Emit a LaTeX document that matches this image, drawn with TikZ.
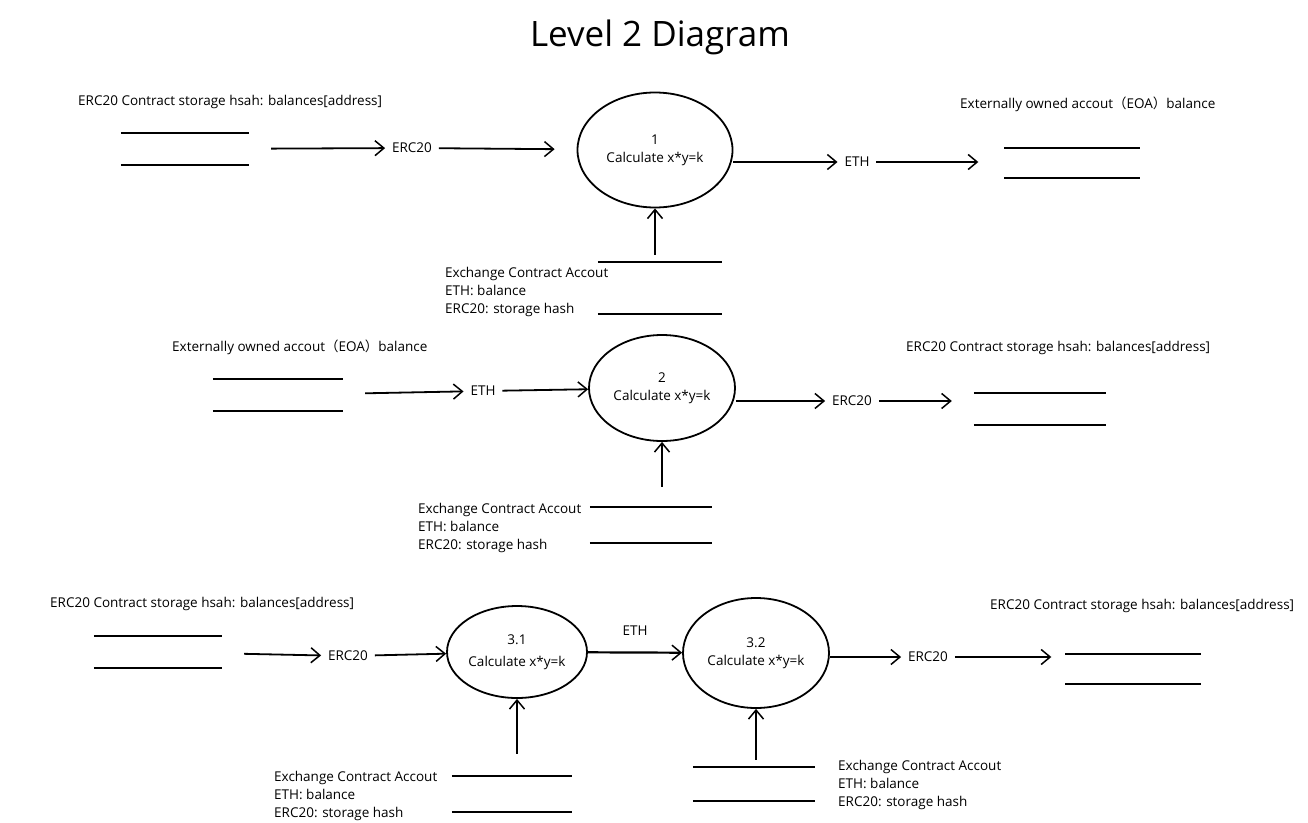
\documentclass[tikz,border=0pt]{standalone}
\usepackage{fontspec}
\setmainfont{Open Sans}
\newfontfamily\cjk{Noto Sans CJK SC}
\usetikzlibrary{arrows.meta,shapes.geometric}
\newcommand{\eoa}{Externally owned accout{\cjk（}EOA{\cjk）}balance}
\newcommand{\erc}{ERC20 Contract storage hsah: balances[address]}
\newcommand{\exch}{Exchange Contract Accout\\ETH: balance\\ERC20: storage hash}
\tikzset{
  txt/.style={font=\fontsize{13.5}{18}\selectfont},
  flow/.style={line width=1.8pt,-{Straight Barb[length=9pt,width=15pt,line width=1.5pt]}},
  fromstore/.style={shorten <=22pt},
  tostore/.style={shorten >=22pt},
  proc/.style={ellipse,draw,line width=1.8pt,align=center,txt,inner sep=0pt},
  lbl/.style={txt,inner sep=2pt,outer sep=5pt},
  note/.style={txt,anchor=west,inner sep=0pt,align=left},
  store/.style={minimum width=128pt,minimum height=32pt,inner sep=0pt},
  storeline/.style={line width=2pt},
}
\begin{document}
\begin{tikzpicture}[x=1pt,y=-1pt]
\useasboundingbox (0,0) rectangle (1308,822);
\node[font=\fontsize{35}{40}\selectfont] (title) at (660,37) {Level 2 Diagram};

% row 1
\node[note] (t1) at (78,102) {\erc};
\node[note] (t2) at (960,104) {\eoa};
\node[store] (s1) at (185,149) {};
\node[store,minimum width=135pt,minimum height=30pt] (o1) at (1072,163) {};
\node[store,minimum width=124pt,minimum height=52pt] (e1) at (660,288) {};
\node[note] (x1) at (445,292) {\exch};
\node[proc,minimum width=155pt,minimum height=115pt] (c1) at (655,150) {1\\Calculate x*y=k};
\node[lbl] (f11) at (412,148) {ERC20};
\node[lbl] (f12) at (857,162) {ETH};
\draw[flow,fromstore] (s1) -- (f11);
\draw[flow,shorten >=22pt] (f11) -- (c1);
\draw[flow] (f12 -| c1.east) -- (f12);
\draw[flow,shorten >=26pt] (f12) -- (f12 -| o1.west);
\draw[flow,shorten <=7pt] (c1.south |- e1.north) -- (c1.south);

% row 2
\node[note] (t21) at (172,347) {\eoa};
\node[note] (t22) at (906,348) {\erc};
\node[store,minimum width=130pt] (s21) at (278,395) {};
\node[store,minimum width=132pt] (s22) at (1040,409) {};
\node[store,minimum width=122pt,minimum height=36pt] (e2) at (651,525) {};
\node[note] (x2) at (418,528) {\exch};
\node[proc,minimum width=146pt,minimum height=106pt] (c2) at (662,388) {2\\Calculate x*y=k};
\node[lbl] (f21) at (483,391) {ETH};
\node[lbl] (f22) at (852,401) {ERC20};
\draw[flow,fromstore] (s21) -- (f21);
\draw[flow] (f21) -- (c2);
\draw[flow] (f22 -| c2.east) -- (f22);
\draw[flow,tostore] (f22) -- (f22 -| s22.west);
\draw[flow,shorten <=20pt] (c2.south |- e2.north) -- (c2.south);

% row 3
\node[note] (t31) at (50,604) {\erc};
\node[note] (t32) at (990,606) {\erc};
\node[store] (s31) at (158,652) {};
\node[store,minimum width=135pt,minimum height=30pt] (s32) at (1133,669) {};
\node[store,minimum width=120pt,minimum height=36pt] (e31) at (512,794) {};
\node[store,minimum width=122pt,minimum height=34pt] (e32) at (754,784) {};
\node[note] (x31) at (274,796) {\exch};
\node[note] (x32) at (838,785) {\exch};
\node[proc,minimum width=140pt,minimum height=92pt] (c31) at (517,652) {3.1\\[4pt]Calculate x*y=k};
\node[proc,minimum width=146pt,minimum height=110pt] (c32) at (756,653) {3.2\\Calculate x*y=k};
\node[lbl] (f31) at (348,656) {ERC20};
\node[lbl] (f33) at (928,657) {ERC20};
\draw[flow,fromstore] (s31) -- (f31);
\draw[flow] (f31) -- (c31);
\draw[flow,line width=2.2pt] (c31) -- node[lbl,above=10pt] (f32) {ETH} (c32);
\draw[flow] (f33 -| c32.east) -- (f33);
\draw[flow,shorten >=14pt] (f33) -- (f33 -| s32.west);
\draw[flow,shorten <=22pt] (c31.south |- e31.north) -- (c31.south);
\draw[flow,shorten <=7pt] (c32.south |- e32.north) -- (c32.south);

% store lines
\foreach \s in {s1,o1,e1,s21,s22,e2,s31,s32,e31,e32}
  \draw[storeline] (\s.north west) -- (\s.north east) (\s.south west) -- (\s.south east);
\end{tikzpicture}
\end{document}
